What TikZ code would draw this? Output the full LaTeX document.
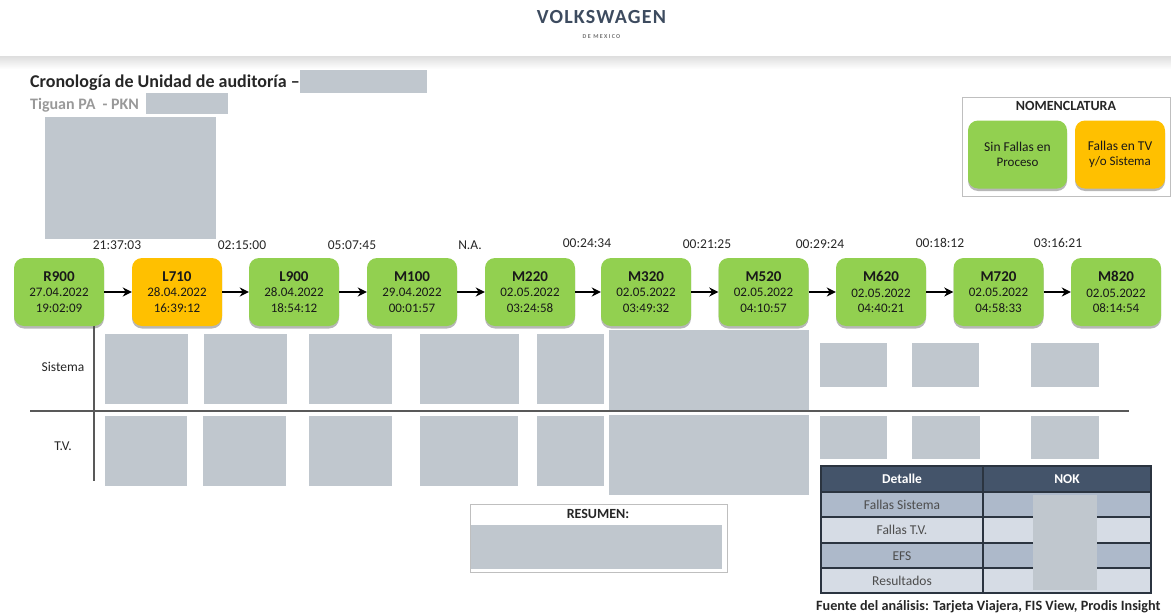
\documentclass[tikz,border=0pt]{standalone}
\usepackage{fontspec}
\setmainfont{Carlito}
\newfontfamily\logofont[LetterSpace=6]{Carlito}
\newfontfamily\logosubfont[LetterSpace=22]{Carlito}
\usetikzlibrary{shadows,arrows.meta}
\definecolor{mask}{HTML}{C0C7CE}
\definecolor{okgreen}{HTML}{92D050}
\definecolor{nokorange}{HTML}{FFC000}
\definecolor{navy}{HTML}{44546A}
\definecolor{rowa}{HTML}{ADB9CA}
\definecolor{rowb}{HTML}{D6DCE5}
\definecolor{tline}{HTML}{2B3440}
\tikzset{
  stationbox/.style={rounded corners=10pt,minimum width=90pt,minimum height=68pt,inner sep=0pt,
    align=center,font=\fontsize{13}{15.5}\selectfont,text=black!90,
    drop shadow={shadow xshift=0pt,shadow yshift=-2.5pt,opacity=.4,fill=black!70}},
  okbox/.style={stationbox,fill=okgreen},
  nokbox/.style={stationbox,fill=nokorange},
  flow/.style={-{Stealth[length=9pt,width=9pt]},line width=2.2pt,black},
  masked/.style={fill=mask,draw=none,inner sep=0pt},
  timelabel/.style={font=\fontsize{13.5}{14}\selectfont,text=black!85,inner sep=0pt},
  rowlabel/.style={font=\fontsize{13.5}{14}\selectfont,text=black!85,inner sep=0pt},
  axisline/.style={line width=1.3pt,black!65},
  cell/.style={font=\fontsize{13.5}{16}\selectfont,text=black!70,inner sep=0pt},
  headcell/.style={font=\bfseries\fontsize{13.5}{16}\selectfont,text=white,inner sep=0pt},
  tablerule/.style={line width=1.2pt,tline}
}
\newcommand{\maskrect}[5]{\node[masked,minimum width=#4pt-#2pt,minimum height=#5pt-#3pt,anchor=north west] (#1) at (#2,#3) {};}
\begin{document}
\begin{tikzpicture}[x=1pt,y=-1pt]
\useasboundingbox (0,0) rectangle (1171,616);
% header band
\shade[top color=black!13,bottom color=white] (0,56) rectangle (1171,69);
\node[inner sep=0pt,text=navy!90!black,font=\logofont\bfseries\fontsize{20}{22}\selectfont] (logo) at (601.5,17) {VOLKSWAGEN};
\node[inner sep=0pt,text=black!55,font=\logosubfont\bfseries\fontsize{6}{7}\selectfont] (logosub) at (601.5,37) {DE MEXICO};
% title
\node[anchor=west,inner sep=0pt,font=\bfseries\fontsize{18}{20}\selectfont,text=black!85] (title) at (30,83) {Cronología de Unidad de auditoría –};
\node[anchor=west,inner sep=0pt,font=\bfseries\fontsize{16}{18}\selectfont,text=black!40] (subtitle) at (30,105) {Tiguan PA\ \ - PKN};
\maskrect{m1}{300}{70}{427}{93}
\maskrect{m2}{146}{93}{228}{114}
\maskrect{m3}{45}{117}{216}{239}
% legend
\node[draw=black!25,line width=1pt,minimum width=208pt,minimum height=99pt,anchor=north west,inner sep=0pt] (legend) at (962,97) {};
\node[inner sep=0pt,font=\bfseries\fontsize{14}{15}\selectfont,text=black!85] (legendtitle) at (1066,106) {NOMENCLATURA};
\node[okbox,minimum width=99pt] (legok) at (1017.5,154.5) {\fontsize{13.5}{16}\selectfont Sin Fallas en\\Proceso};
\node[nokbox,minimum width=90pt] (legnok) at (1120,154.5) {\fontsize{13.5}{16}\selectfont Fallas en TV\\y/o Sistema};
% axes
\coordinate (hl) at (30,411); \coordinate (hr) at (1129,411);
\coordinate (vt) at (94,326); \coordinate (vb) at (94,481);
\draw[axisline] (hl) -- (hr);
\draw[axisline] (vt) -- (vb);
\node[rowlabel] (lblsis) at (63,367) {Sistema};
\node[rowlabel] (lbltv) at (63,446) {T.V.};
% stations
\node[okbox]  (R900) at (59,292)   {\textbf{\fontsize{15}{17}\selectfont R900}\\27.04.2022\\19:02:09};
\node[nokbox] (L710) at (177,292)  {\textbf{\fontsize{15}{17}\selectfont L710}\\28.04.2022\\16:39:12};
\node[okbox]  (L900) at (294,292)  {\textbf{\fontsize{15}{17}\selectfont L900}\\28.04.2022\\18:54:12};
\node[okbox]  (M100) at (412,292)  {\textbf{\fontsize{15}{17}\selectfont M100}\\29.04.2022\\00:01:57};
\node[okbox]  (M220) at (530,292)  {\textbf{\fontsize{15}{17}\selectfont M220}\\02.05.2022\\03:24:58};
\node[okbox]  (M320) at (646,292)  {\textbf{\fontsize{15}{17}\selectfont M320}\\02.05.2022\\03:49:32};
\node[okbox]  (M520) at (763.5,292){\textbf{\fontsize{15}{17}\selectfont M520}\\02.05.2022\\04:10:57};
\node[okbox]  (M620) at (881,292)  {\textbf{\fontsize{15}{17}\selectfont M620}\\02.05.2022\\04:40:21};
\node[okbox]  (M720) at (998.5,292){\textbf{\fontsize{15}{17}\selectfont M720}\\02.05.2022\\04:58:33};
\node[okbox]  (M820) at (1116,292) {\textbf{\fontsize{15}{17}\selectfont M820}\\02.05.2022\\08:14:54};
\draw[flow] (R900) -- (L710);
\draw[flow] (L710) -- (L900);
\draw[flow] (L900) -- (M100);
\draw[flow] (M100) -- (M220);
\draw[flow] (M220) -- (M320);
\draw[flow] (M320) -- (M520);
\draw[flow] (M520) -- (M620);
\draw[flow] (M620) -- (M720);
\draw[flow] (M720) -- (M820);
% times
\node[timelabel] (t1) at (117,245) {21:37:03};
\node[timelabel] (t2) at (242,245) {02:15:00};
\node[timelabel] (t3) at (352,245) {05:07:45};
\node[timelabel] (t4) at (470,245) {N.A.};
\node[timelabel] (t5) at (587,243) {00:24:34};
\node[timelabel] (t6) at (707,244) {00:21:25};
\node[timelabel] (t7) at (820,244) {00:29:24};
\node[timelabel] (t8) at (940,243) {00:18:12};
\node[timelabel] (t9) at (1058,243) {03:16:21};
% masked cells
\maskrect{s1}{105}{334}{188}{404}
\maskrect{s2}{204}{334}{287}{404}
\maskrect{s3}{309}{334}{392}{404}
\maskrect{s4}{420}{334}{519}{404}
\maskrect{s5}{537}{334}{604}{404}
\maskrect{s6}{609}{330}{809}{410}
\maskrect{s7}{820}{343}{887}{387}
\maskrect{s8}{912}{343}{979}{387}
\maskrect{s9}{1031}{343}{1099}{387}
\maskrect{v1}{105}{416}{187}{486}
\maskrect{v2}{203}{416}{286}{486}
\maskrect{v3}{309}{416}{392}{486}
\maskrect{v4}{420}{416}{518}{486}
\maskrect{v5}{537}{416}{604}{486}
\maskrect{v6}{609}{415}{809}{495}
\maskrect{v7}{820}{416}{887}{459}
\maskrect{v8}{912}{416}{980}{459}
\maskrect{v9}{1031}{416}{1099}{459}
% summary
\node[draw=black!25,line width=1pt,minimum width=257pt,minimum height=68pt,anchor=north west,inner sep=0pt] (resbox) at (470,504) {};
\node[inner sep=0pt,font=\bfseries\fontsize{14}{15}\selectfont,text=black!85] (restitle) at (598,514) {RESUMEN:};
\maskrect{res}{471}{525}{722}{569}
% table
\fill[navy] (821,466) rectangle (1151,492);
\fill[rowa] (821,492) rectangle (1151,517);
\fill[rowb] (821,517) rectangle (1151,543);
\fill[rowa] (821,543) rectangle (1151,568);
\fill[rowb] (821,568) rectangle (1151,593);
\draw[tablerule] (821,466) rectangle (1151,593);
\draw[tablerule] (821,492) -- (1151,492);
\draw[tablerule] (821,517) -- (1151,517);
\draw[tablerule] (821,543) -- (1151,543);
\draw[tablerule] (821,568) -- (1151,568);
\draw[tablerule] (983,466) -- (983,593);
\node[headcell] (hd) at (902,479) {Detalle};
\node[headcell] (hn) at (1067,479) {NOK};
\node[cell] (c1) at (902,505) {Fallas Sistema};
\node[cell] (c2) at (902,530) {Fallas T.V.};
\node[cell] (c3) at (902,556) {EFS};
\node[cell] (c4) at (902,581) {Resultados};
\maskrect{tm}{1033}{495}{1097}{590}
\node[anchor=west,inner sep=0pt,font=\bfseries\fontsize{14.2}{15}\selectfont,text=black!85] (source) at (816,607) {Fuente del análisis: Tarjeta Viajera, FIS View, Prodis Insight};
\end{tikzpicture}
\end{document}
